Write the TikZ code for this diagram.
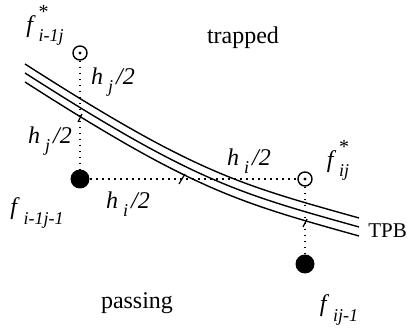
\documentclass[tikz,border=0pt]{standalone}
\usepackage{fontspec}
\setmainfont{Liberation Serif}
\newcommand{\fstar}[1]{\textit{f}\kern1.5pt\rlap{\raisebox{1.3ex}{\fontsize{10}{10}\selectfont *}}\raisebox{-0.8ex}{\fontsize{9}{10}\selectfont\itshape #1}}
\newcommand{\fplain}[1]{\textit{f}\kern2pt\raisebox{-0.9ex}{\fontsize{9}{10}\selectfont\itshape #1}}
\newcommand{\halfh}[1]{\textit{h}\kern2.5pt\raisebox{-0.7ex}{\fontsize{9}{10}\selectfont\itshape #1}\kern1.5pt\textit{/2}}
\begin{document}
\begin{tikzpicture}[x=0.5pt,y=-0.5pt,font=\fontsize{12}{14}\selectfont,
	open/.style={circle,draw,line width=0.7pt,minimum size=7pt,inner sep=0pt,
		path picture={\fill (path picture bounding box.center) circle (0.8pt);}},
	full/.style={circle,fill,minimum size=9.5pt,inner sep=0pt},
	grid/.style={line width=0.9pt,dash pattern=on 0.9pt off 2.1pt}]
	\useasboundingbox (0,0) rectangle (408,330);

	% Boundary (three parallel lines)
	\foreach \d in {-9,0,9}
		\draw[line width=0.7pt] (25,73+\d) .. controls (195,182+\d) and (239,193.4+\d) .. (359,227+\d);

	% Grid points
	\node[open] (c1) at (80,53) {};
	\node[full] (d1) at (80,179) {};
	\node[open] (c2) at (305,179) {};
	\node[full] (d2) at (305,264) {};

	% Dotted links
	\draw[grid] (c1) -- (d1);
	\draw[grid] (d1) -- (c2);
	\draw[grid] (c2) -- (d2);

	% Crossing ticks
	\draw[line width=0.6pt] (78,122) -- (82,114);
	\draw[line width=0.6pt] (179,184) -- (185,174);
	\draw[line width=0.6pt] (303,227) -- (307,219);

	% Labels
	\node (lc1) at (45,25) {\fstar{i-1j}};
	\node (ld1) at (37,213) {\fplain{i-1j-1}};
	\node (lc2) at (338,160) {\fstar{ij}};
	\node (ld2) at (339,310) {\fplain{ij-1}};
	\node (hj1) at (113,82) {\halfh{j}};
	\node (hj2) at (50,141) {\halfh{j}};
	\node (hi1) at (128,204) {\halfh{i}};
	\node (hi2) at (249,161) {\halfh{i}};
	\node (trap) at (243,38) {trapped};
	\node (pass) at (137,303) {passing};
	\node[anchor=west,font=\fontsize{10.5}{12}\selectfont,inner sep=1pt] (tpb) at (366,231) {TPB};
\end{tikzpicture}
\end{document}
